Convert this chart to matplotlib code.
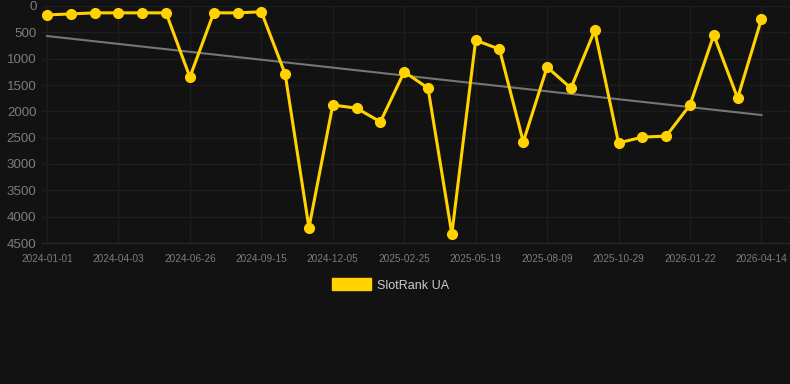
import matplotlib
matplotlib.use("Agg")
import matplotlib.pyplot as plt
from matplotlib.patches import Patch
import numpy as np

plt.rcParams["font.family"] = ["Liberation Sans", "DejaVu Sans"]

# rank per snapshot (lower is better, axis inverted)
ranks = [170, 150, 130, 130, 130, 130, 1350, 130, 130, 110,
         1290, 4210, 1880, 1940, 2200, 1250, 1560, 4330, 650, 820,
         2580, 1160, 1560, 460, 2600, 2490, 2470, 1880, 550, 1750, 250]
tick_labels = ["2024-01-01", "2024-04-03", "2024-06-26", "2024-09-15",
               "2024-12-05", "2025-02-25", "2025-05-19", "2025-08-09",
               "2025-10-29", "2026-01-22", "2026-04-14"]
trend_ends = [570, 2070]
y_ticks = [0, 500, 1000, 1500, 2000, 2500, 3000, 3500, 4000, 4500]

bg = "#121212"
gold = "#FFD200"

fig = plt.figure(figsize=(7.9, 3.84), dpi=100, facecolor=bg)
ax = fig.add_axes([42 / 790, 1 - 243 / 384, 748 / 790, 237 / 384])
ax.set_facecolor(bg)

x = np.arange(len(ranks))
ax.plot([x[0], x[-1]], trend_ends, color="#767676", lw=1.5, zorder=2)
ax.plot(x, ranks, color=gold, lw=2.2, marker="o", markersize=7, zorder=3)

ax.set_ylim(4500, 0)
ax.set_xlim(-0.21, 31.2)
ax.set_yticks(y_ticks)
ax.set_xticks(x[::3])
ax.set_xticklabels(tick_labels)

ax.grid(True, color="#1d1d1d", lw=1)
ax.set_axisbelow(True)
for s in ["top", "right", "left"]:
    ax.spines[s].set_visible(False)
ax.spines["bottom"].set_color("#2a2a2a")
ax.tick_params(axis="y", colors="#7c7c7c", labelsize=9.6, length=0, pad=4)
ax.tick_params(axis="x", colors="#7c7c7c", labelsize=7.2, length=0, pad=8)

fig.legend(handles=[Patch(facecolor=gold, edgecolor=gold)], labels=["SlotRank UA"],
           loc="center", bbox_to_anchor=(391 / 790, 1 - 285 / 384), frameon=False,
           labelcolor="#cccccc", fontsize=9, handlelength=3.1, handleheight=1.1,
           handletextpad=0.5)

fig.savefig("out.png", dpi=100, facecolor=bg)
